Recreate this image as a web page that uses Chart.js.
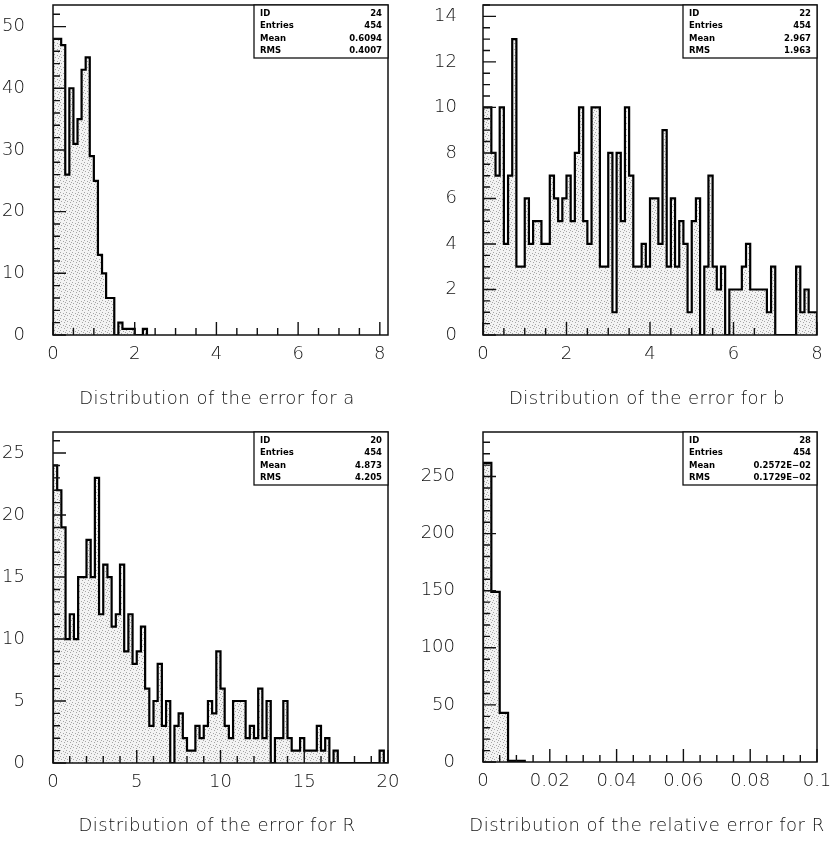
<!DOCTYPE html>
<html><head><meta charset="utf-8">
<script src="https://cdn.jsdelivr.net/npm/chart.js@4.4.1/dist/chart.umd.min.js"></script>
<style>
html,body{margin:0;padding:0;background:#fff;}
#wrap{position:relative;width:831px;height:841px;overflow:hidden;background:#fff;}
canvas{position:absolute;}
</style></head><body>
<div id="wrap">
<canvas id="ca" width="415" height="420" style="left:0px;top:0px"></canvas>
<canvas id="cb" width="416" height="420" style="left:415px;top:0px"></canvas>
<canvas id="cc" width="415" height="421" style="left:0px;top:420px"></canvas>
<canvas id="cd" width="416" height="421" style="left:415px;top:420px"></canvas>
</div>
<script>
// ---------- DATA ----------
// Panel a: error for a (bins of 0.1 starting at 0)
const binWidthA = 0.1;
const countsA = [48,48,47,26,40,31,35,43,45,29,25,13,10,6,6,0,2,1,1,1,0,0,1];
const xTicksA = ['0','2','4','6','8'];
const yTicksA = ['0','10','20','30','40','50'];
const statsA = ['24','454','0.6094','0.4007'];

// Panel b: error for b (bins of 0.1 starting at 0)
const binWidthB = 0.1;
const countsB = [10,10,8,7,10,4,7,13,3,3, 6,4,5,5,4,4,7,6,5,6,
                 7,5,8,10,5,4,10,10,3,3, 8,1,8,5,10,7,3,3,4,3,
                 6,6,4,9,3,6,3,5,4,1, 5,6,0,3,7,3,2,3,0,2,
                 2,2,3,4,2,2,2,2,1,3, 0,0,0,0,0,3,1,2,1,1];
const xTicksB = ['0','2','4','6','8'];
const yTicksB = ['0','2','4','6','8','10','12','14'];
const statsB = ['22','454','2.967','1.963'];

// Panel c: error for R (bins of 0.25 starting at 0)
const binWidthC = 0.25;
const countsC = [24,22,19,10,12,10,15,15,18,15, 23,12,16,15,11,12,16,9,12,8,
                 9,11,6,3,5,8,3,5,0,3, 4,2,1,1,3,2,3,5,4,9,
                 6,3,2,5,5,5,2,3,2,6, 2,5,0,2,2,5,2,1,1,2,
                 1,1,1,3,1,2,0,1,0,0, 0,0,0,0,0,0,0,0,1,0];
const xTicksC = ['0','5','10','15','20'];
const yTicksC = ['0','5','10','15','20','25'];
const statsC = ['20','454','4.873','4.205'];

// Panel d: relative error for R (bins of 0.0025 starting at 0)
const binWidthD = 0.0025;
const countsD = [262,149,43,1,1];
const xTicksD = ['0','0.02','0.04','0.06','0.08','0.1'];
const yTicksD = ['0','50','100','150','200','250'];
const statsD = ['28','454','0.2572E\u221202','0.1729E\u221202'];

const statLabels = ['ID','Entries','Mean','RMS'];
const titles = ['Distribution of the error for a','Distribution of the error for b',
                'Distribution of the error for R','Distribution of the relative error for R'];

// ---------- STYLE / HELPERS ----------
const FONT = "'DejaVu Sans', sans-serif";

function makePattern(){
  const c = document.createElement('canvas'); c.width = 6; c.height = 6;
  const g = c.getContext('2d');
  g.fillStyle = '#f3f3f3'; g.fillRect(0,0,6,6);
  g.fillStyle = '#a6a6a6';
  [[0,0],[3,1],[1,3],[4,4],[5,2]].forEach(p => g.fillRect(p[0],p[1],1,1));
  return g.createPattern(c,'repeat');
}

function histPoints(counts, w){
  const pts = [{x:0, y:0}];
  counts.forEach((c,k) => pts.push({x:k*w, y:c}));
  pts.push({x:counts.length*w, y:0});
  return pts;
}

const decor = {
  id: 'decor',
  afterDraw(chart, args, o){
    const ctx = chart.ctx, a = chart.chartArea, xs = chart.scales.x, ys = chart.scales.y;
    ctx.save();
    ctx.strokeStyle = '#111'; ctx.lineWidth = 1.4; ctx.lineCap = 'butt';
    const xMaj = o.xTicks.map(Number), yMaj = o.yTicks.map(Number);
    const near = (arr, v) => arr.some(m => Math.abs(m - v) < 1e-9);
    ctx.beginPath();
    for (let i = 0; ; i++){
      const v = i*o.xMinor; if (v > xMaj[xMaj.length-1] + 1e-9) break;
      const px = xs.getPixelForValue(v);
      const len = near(xMaj, v) ? 13 : 7;
      ctx.moveTo(px, a.bottom); ctx.lineTo(px, a.bottom - len);
    }
    for (let i = 0; ; i++){
      const v = i*o.yMinor; if (v > ys.max + 1e-9) break;
      const py = ys.getPixelForValue(v);
      const len = near(yMaj, v) ? 13 : 7;
      ctx.moveTo(a.left, py); ctx.lineTo(a.left + len, py);
    }
    ctx.stroke();
    // frame
    ctx.lineWidth = 1.5;
    ctx.strokeRect(a.left, a.top, a.right - a.left, a.bottom - a.top);
    // stats box
    const bw = 134, bh = 53, bx = a.right - bw, by = a.top;
    ctx.fillStyle = '#fff'; ctx.fillRect(bx, by, bw, bh);
    ctx.lineWidth = 1.3; ctx.strokeRect(bx, by, bw, bh);
    ctx.fillStyle = '#000';
    ctx.font = 'bold 8.5px ' + FONT; ctx.textBaseline = 'middle';
    statLabels.forEach((lab, i) => {
      const y = by + 8.5 + i*12.5;
      ctx.textAlign = 'left'; ctx.fillText(lab, bx + 6, y);
      ctx.textAlign = 'right'; ctx.fillText(o.stats[i], bx + bw - 6, y);
    });
    // title
    ctx.font = '200 18px ' + FONT; ctx.textAlign = 'center'; ctx.textBaseline = 'middle';
    ctx.fillStyle = '#111';
    try { ctx.letterSpacing = '0.5px'; } catch(e) {}
    ctx.fillText(o.title, o.titleX, o.titleY);
    ctx.restore();
  }
};

function makePanel(id, p){
  const xVals = p.xTicks.map(Number), yVals = p.yTicks.map(Number);
  return new Chart(document.getElementById(id), {
    type: 'line',
    data: { datasets: [{
      data: histPoints(p.counts, p.w),
      stepped: true,
      borderColor: '#000', borderWidth: 2.2,
      pointRadius: 0, fill: 'origin', backgroundColor: makePattern(),
      borderJoinStyle: 'miter'
    }]},
    options: {
      responsive: false, animation: false, devicePixelRatio: 1,
      layout: { padding: { left: 0, top: p.padTop, right: p.padRight, bottom: p.padBottom } },
      plugins: { legend: {display:false}, tooltip: {enabled:false}, title: {display:false},
        decor: { xTicks: p.xTicks, yTicks: p.yTicks, xMinor: p.xMinor, yMinor: p.yMinor,
                 stats: p.stats, title: p.title, titleX: p.titleX, titleY: p.titleY } },
      scales: {
        x: { type: 'linear', min: 0, max: p.xMax,
          grid: {display:false}, border: {display:false},
          afterBuildTicks: s => { s.ticks = xVals.map(v => ({value: v})); },
          afterFit: s => { s.height = 40; s.paddingLeft = 0; s.paddingRight = 0; },
          ticks: { autoSkip: false, maxRotation: 0, padding: 1, color: '#111',
            font: { family: FONT, size: 18, weight: 200 },
            callback: (v, i) => p.xTicks[i] } },
        y: { type: 'linear', min: 0, max: p.yMax,
          grid: {display:false}, border: {display:false},
          afterBuildTicks: s => { s.ticks = yVals.map(v => ({value: v})); },
          afterFit: s => { s.width = p.yAxisW; s.paddingTop = 0; s.paddingBottom = 0; },
          ticks: { autoSkip: false, padding: p.yPad, color: '#111',
            font: { family: FONT, size: 18, weight: 200 },
            callback: (v, i) => p.yTicks[i] } }
      }
    },
    plugins: [decor]
  });
}

makePanel('ca', { counts: countsA, w: binWidthA, xMax: 8.2, yMax: 53.5, xTicks: xTicksA, yTicks: yTicksA,
  xMinor: 0.5, yMinor: 2, stats: statsA, title: titles[0], titleX: 217, titleY: 399,
  yAxisW: 53, padTop: 5, padRight: 27, padBottom: 45, yPad: 20 });
makePanel('cb', { counts: countsB, w: binWidthB, xMax: 8, yMax: 14.5, xTicks: xTicksB, yTicks: yTicksB,
  xMinor: 0.5, yMinor: 0.5, stats: statsB, title: titles[1], titleX: 232, titleY: 399,
  yAxisW: 68, padTop: 5, padRight: 14, padBottom: 45, yPad: 18 });
makePanel('cc', { counts: countsC, w: binWidthC, xMax: 20, yMax: 26.7, xTicks: xTicksC, yTicks: yTicksC,
  xMinor: 1, yMinor: 1, stats: statsC, title: titles[2], titleX: 217, titleY: 406,
  yAxisW: 53, padTop: 12, padRight: 27, padBottom: 38, yPad: 20 });
makePanel('cd', { counts: countsD, w: binWidthD, xMax: 0.1, yMax: 289, xTicks: xTicksD, yTicks: yTicksD,
  xMinor: 0.005, yMinor: 10, stats: statsD, title: titles[3], titleX: 232, titleY: 406,
  yAxisW: 68, padTop: 12, padRight: 14, padBottom: 39, yPad: 20 });
</script>
</body></html>
